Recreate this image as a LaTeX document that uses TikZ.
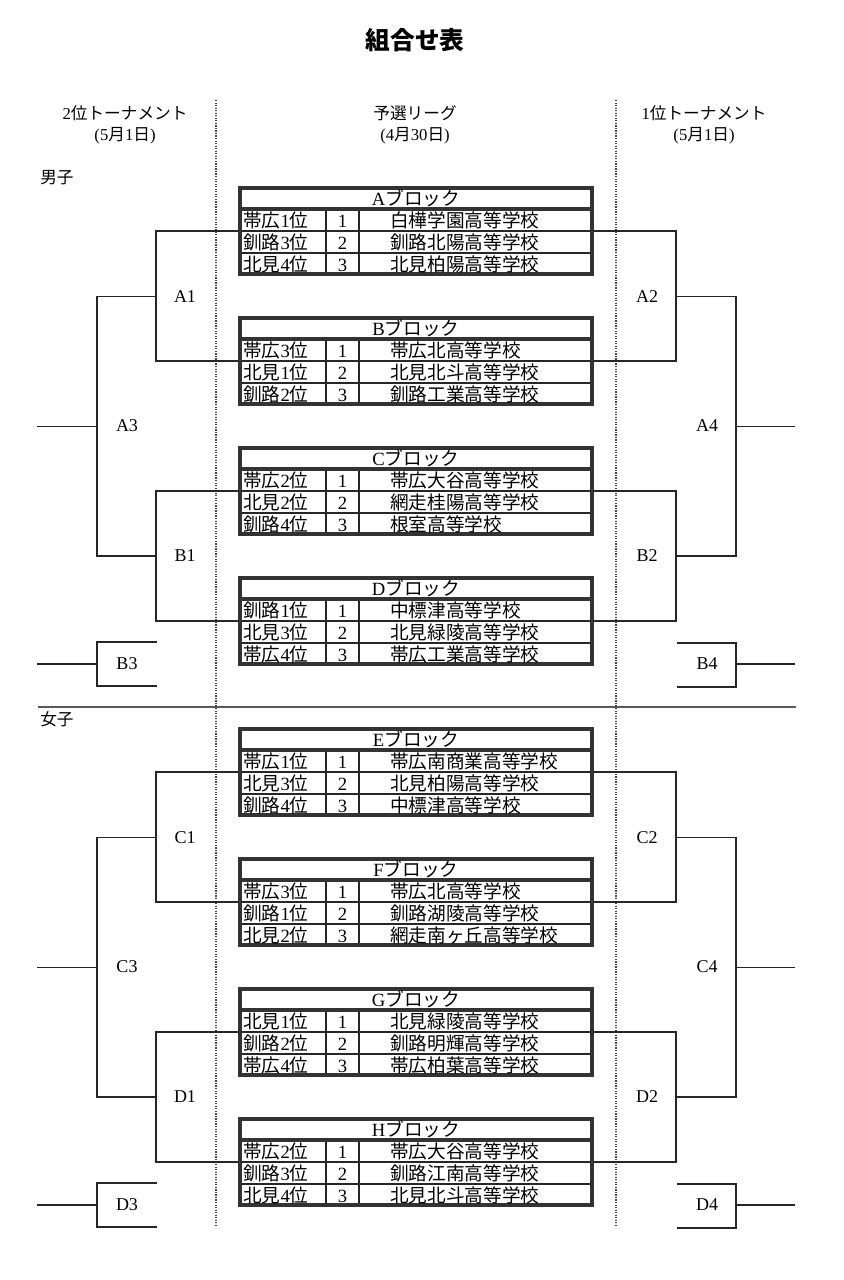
\documentclass[tikz,border=0pt]{standalone}
\usepackage{fontspec}
\setmainfont{Liberation Serif}
\newfontfamily\jp{Noto Sans CJK JP}
\newcommand\J[1]{{\jp #1}}
\tikzset{
  brk/.style={line width=1.4pt, draw=black!85},
  tframe/.style={line width=2.8pt, draw=black!80},
  tline/.style={line width=1.3pt, draw=black!85},
  tcell/.style={font=\fontsize{14}{16}\selectfont, inner sep=0pt, text height=12.3pt, text depth=1.7pt},
  hd/.style={font=\fontsize{12.5}{14}\selectfont, inner sep=0pt},
  lbl/.style={font=\fontsize{13.5}{15}\selectfont, inner sep=0pt},
  dotline/.style={densely dotted, line width=0.9pt, draw=black!75},
  sep/.style={line width=0.8pt, draw=black!65}
}
% connection points of a table: #1 name, #2 top y
\newcommand\tcoords[2]{%
  \coordinate (#1l) at (240,#2+43);
  \coordinate (#1r) at (592,#2+43);
}
% table macro: #1 name, #2 top y, #3 header, #4 rows city/rank/no/school
\newcommand\blk[4]{%
  \draw[tline] (240,#2+43) -- (592,#2+43) (240,#2+65) -- (592,#2+65);
  \draw[tline] (326,#2+21) -- (326,#2+86) (359,#2+21) -- (359,#2+86);
  \draw[tframe] (240,#2+21) -- (592,#2+21);
  \draw[tframe] (240,#2) rectangle (592,#2+86);
  \node[tcell] (#1h) at (416,#2+10.5) {#3};
  \foreach \c/\r/\n/\s [count=\i] in {#4} {
    \node[tcell, anchor=west] (#1c\i) at (243,#2+10+22*\i) {\J{\c}\r\J{位}};
    \node[tcell] (#1n\i) at (342.5,#2+10+22*\i) {\n};
    \node[tcell, anchor=west] (#1s\i) at (390,#2+10+22*\i) {\J{\s}};
  }
}
% brackets: #1 offset, #2..#5 tables, #6 #7 letters
\newcommand\brackets[7]{%
  % left side
  \coordinate (#61m) at (156,296.5+#1);
  \coordinate (#71m) at (156,556+#1);
  \coordinate (#63o) at (37,426.5+#1);
  \coordinate (#73t) at (157,642+#1);
  \coordinate (#73o) at (37,664+#1);
  \draw[brk] (#2l) -- ++(-84,0) |- (#3l);
  \draw[brk] (#4l) -- ++(-84,0) |- (#5l);
  \draw[brk] (#61m) -- ++(-59,0) |- (#71m);
  \draw[brk] (#63o) -- ++(60,0);
  \draw[brk] (#73t) -- ++(-60,0) -- ++(0,44) -- ++(60,0);
  \draw[brk] (#73o) -- ++(60,0);
  \node[lbl] (#61) at (185,297+#1) {#61};
  \node[lbl] (#63) at (127,426+#1) {#63};
  \node[lbl] (#71) at (185,556+#1) {#71};
  \node[lbl] (#73) at (127,664+#1) {#73};
  % right side
  \coordinate (#62m) at (676,296.5+#1);
  \coordinate (#72m) at (676,556+#1);
  \coordinate (#64o) at (795,426.5+#1);
  \coordinate (#74t) at (677,643+#1);
  \coordinate (#74o) at (795,664+#1);
  \draw[brk] (#2r) -- ++(84,0) |- (#3r);
  \draw[brk] (#4r) -- ++(84,0) |- (#5r);
  \draw[brk] (#62m) -- ++(60,0) |- (#72m);
  \draw[brk] (#64o) -- ++(-59,0);
  \draw[brk] (#74t) -- ++(59,0) -- ++(0,44) -- ++(-59,0);
  \draw[brk] (#74o) -- ++(-59,0);
  \node[lbl] (#62) at (647,297+#1) {#62};
  \node[lbl] (#64) at (707,426+#1) {#64};
  \node[lbl] (#72) at (647,556+#1) {#72};
  \node[lbl] (#74) at (707,664+#1) {#74};
}
\begin{document}
\begin{tikzpicture}[x=0.75pt,y=-0.75pt]
\useasboundingbox[fill=white] (0,0) rectangle (843,1280);
% title and headers
\node[font=\fontsize{18.5}{20}\selectfont\jp\bfseries, inner sep=0pt] (title) at (415,40) {組合せ表};
\node[hd] (h2) at (125,113) {2\J{位トーナメント}};
\node[hd] (h2d) at (125,136) {(5\J{月}1\J{日})};
\node[hd] (hq) at (415,113) {\J{予選リーグ}};
\node[hd] (hqd) at (415,136) {(4\J{月}30\J{日})};
\node[hd] (h1) at (704,113) {1\J{位トーナメント}};
\node[hd] (h1d) at (704,136) {(5\J{月}1\J{日})};
% dotted column separators
\coordinate (d1t) at (216,100); \coordinate (d1b) at (216,1225);
\coordinate (d2t) at (616,100); \coordinate (d2b) at (616,1225);
\draw[dotline] (d1t) -- (d1b);
\draw[dotline] (d2t) -- (d2b);
% section separator
\coordinate (s1) at (38,707); \coordinate (s2) at (796,707);
\draw[sep] (s1) -- (s2);
\node[hd, anchor=west] (men) at (40,178) {\J{男子}};
\node[hd, anchor=west] (women) at (40,719) {\J{女子}};
% table connection points
\tcoords{tA}{188}\tcoords{tB}{318}\tcoords{tC}{448}\tcoords{tD}{578}
\tcoords{tE}{729}\tcoords{tF}{859}\tcoords{tG}{989}\tcoords{tH}{1119}
% brackets (drawn first, tables over them)
\brackets{0}{tA}{tB}{tC}{tD}{A}{B}
\brackets{541}{tE}{tF}{tG}{tH}{C}{D}
% tables
\blk{tA}{188}{A\J{ブロック}}{帯広/1/1/白樺学園高等学校, 釧路/3/2/釧路北陽高等学校, 北見/4/3/北見柏陽高等学校}
\blk{tB}{318}{B\J{ブロック}}{帯広/3/1/帯広北高等学校, 北見/1/2/北見北斗高等学校, 釧路/2/3/釧路工業高等学校}
\blk{tC}{448}{C\J{ブロック}}{帯広/2/1/帯広大谷高等学校, 北見/2/2/網走桂陽高等学校, 釧路/4/3/根室高等学校}
\blk{tD}{578}{D\J{ブロック}}{釧路/1/1/中標津高等学校, 北見/3/2/北見緑陵高等学校, 帯広/4/3/帯広工業高等学校}
\blk{tE}{729}{E\J{ブロック}}{帯広/1/1/帯広南商業高等学校, 北見/3/2/北見柏陽高等学校, 釧路/4/3/中標津高等学校}
\blk{tF}{859}{F\J{ブロック}}{帯広/3/1/帯広北高等学校, 釧路/1/2/釧路湖陵高等学校, 北見/2/3/網走南ヶ丘高等学校}
\blk{tG}{989}{G\J{ブロック}}{北見/1/1/北見緑陵高等学校, 釧路/2/2/釧路明輝高等学校, 帯広/4/3/帯広柏葉高等学校}
\blk{tH}{1119}{H\J{ブロック}}{帯広/2/1/帯広大谷高等学校, 釧路/3/2/釧路江南高等学校, 北見/4/3/北見北斗高等学校}
\end{tikzpicture}
\end{document}
